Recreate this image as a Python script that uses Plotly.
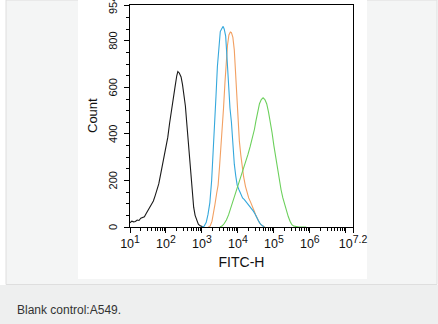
import math
import plotly.graph_objects as go

# FITC-H intensity in decades (log10) and cell counts for each sample
black_log = [1.00, 1.05, 1.10, 1.15, 1.20, 1.25, 1.30, 1.35, 1.40, 1.45, 1.50, 1.55, 1.60, 1.65,
             1.70, 1.75, 1.80, 1.85, 1.90, 1.95, 2.00, 2.05, 2.10, 2.15, 2.20, 2.25, 2.30, 2.33,
             2.37, 2.42, 2.46, 2.50, 2.54, 2.57, 2.61, 2.65, 2.69, 2.73, 2.77, 2.81, 2.85, 2.90,
             2.95, 3.00, 3.05]
black_cnt = [18, 25, 22, 24, 30, 28, 38, 42, 44, 58, 70, 82, 95, 112,
             135, 160, 185, 225, 262, 300, 345, 385, 445, 505, 550, 600, 650, 668,
             662, 645, 612, 575, 520, 462, 380, 290, 210, 140, 85, 50, 28, 12,
             5, 1, 0]

blue_log = [3.00, 3.06, 3.12, 3.17, 3.22, 3.27, 3.31, 3.35, 3.39, 3.43, 3.47, 3.51, 3.55, 3.59,
            3.62, 3.66, 3.70, 3.74, 3.78, 3.82, 3.86, 3.90, 3.94, 3.98, 4.03, 4.08, 4.13, 4.18,
            4.23, 4.28, 4.33, 4.38, 4.43, 4.48, 4.53, 4.58, 4.63, 4.68, 4.73]
blue_cnt = [0, 3, 20, 55, 105, 200, 320, 420, 560, 690, 790, 840, 852, 862,
            850, 820, 720, 610, 510, 450, 340, 270, 220, 180, 160, 140, 125, 118,
            108, 100, 92, 80, 68, 55, 38, 24, 12, 4, 0]

orange_log = [3.18, 3.23, 3.28, 3.32, 3.36, 3.41, 3.45, 3.49, 3.53, 3.56, 3.60, 3.64, 3.67, 3.71,
              3.75, 3.79, 3.82, 3.86, 3.90, 3.93, 3.97, 4.00, 4.04, 4.08, 4.12, 4.16, 4.21, 4.25,
              4.30, 4.35, 4.40, 4.45, 4.50, 4.55, 4.60, 4.65, 4.70, 4.75]
orange_cnt = [0, 5, 25, 55, 95, 145, 180, 260, 340, 410, 510, 620, 700, 780,
              825, 838, 835, 815, 760, 680, 560, 440, 370, 310, 260, 215, 175, 150,
              125, 108, 92, 70, 50, 32, 18, 8, 2, 0]

green_log = [3.50, 3.56, 3.62, 3.68, 3.74, 3.80, 3.86, 3.92, 3.98, 4.04, 4.10, 4.16, 4.22, 4.28,
             4.34, 4.40, 4.46, 4.50, 4.55, 4.60, 4.65, 4.70, 4.75, 4.80, 4.85, 4.90, 4.95, 5.00,
             5.05, 5.10, 5.15, 5.20, 5.25, 5.30, 5.35, 5.40, 5.45, 5.50, 5.55, 5.60, 5.70, 5.80,
             5.90]
green_cnt = [0, 4, 15, 30, 52, 80, 112, 142, 170, 198, 230, 255, 282, 312,
             345, 380, 420, 455, 500, 530, 548, 555, 548, 530, 495, 455, 405, 350,
             300, 250, 200, 160, 125, 95, 70, 45, 25, 10, 4, 2, 0, 0,
             0]

x_tick_vals = [1, 2, 3, 4, 5, 6, 7, 7.2]
x_tick_exp = ["1", "2", "3", "4", "5", "6", "", "7.2"]
y_tick_vals = [0, 200, 400, 600, 800, 954]
y_tick_text = ["0", "200", "400", "600", "800", "954"]

series = [
    (black_log, black_cnt, "#1a1a1a"),
    (orange_log, orange_cnt, "#f2a062"),
    (blue_log, blue_cnt, "#35a8dc"),
    (green_log, green_cnt, "#6cd05c"),
]

W, H = 438, 324
L, R, T, B = 130, 353, 5, 227  # plot area in pixels

def px(x):
    return (x - L) / (R - L)

def py(y):
    return (B - y) / (B - T)

fig = go.Figure()
for xs, ys, col in series:
    fig.add_trace(go.Scatter(x=xs, y=ys, mode="lines",
                             line=dict(color=col, width=1.1), hoverinfo="skip"))

minor_x = [d + math.log10(k) for d in range(1, 7) for k in range(2, 10)]

# power-of-ten labels with a large exponent
x_tick_text = ["10<sup><span style='font-size:10.5px'>%s</span></sup>" % e if e else ""
               for e in x_tick_exp]

font = "Liberation Sans, Arial, sans-serif"

shapes = [
    # page panel
    dict(type="rect", xref="paper", yref="paper", x0=px(6), x1=px(437), y0=py(0), y1=py(284.5),
         fillcolor="#f4f5f5", line=dict(color="#dedede", width=1), layer="below"),
    # white image area
    dict(type="rect", xref="paper", yref="paper", x0=px(78), x1=px(367), y0=py(-2), y1=py(279),
         fillcolor="white", line=dict(width=0), layer="below"),
    # caption strip
    dict(type="rect", xref="paper", yref="paper", x0=px(0), x1=px(438), y0=py(285), y1=py(326),
         fillcolor="#eeefef", line=dict(width=0), layer="below"),
]

annotations = [dict(text="Blank control:A549.", xref="paper", yref="paper",
                    x=px(15), y=py(310), xanchor="left", yanchor="middle",
                    showarrow=False, font=dict(size=12, color="#333333", family=font))]
# rotated count labels next to the y ticks
for v, t in zip(y_tick_vals, y_tick_text):
    annotations.append(dict(text=t, xref="paper", yref="y", x=px(113), y=v,
                            xanchor="center", yanchor="middle", textangle=-90,
                            showarrow=False, font=dict(size=11, color="#111111", family=font)))
annotations.append(dict(text="Count", xref="paper", yref="paper", x=px(92), y=0.5,
                        xanchor="center", yanchor="middle", textangle=-90,
                        showarrow=False, font=dict(size=13, color="#111111", family=font)))

fig.update_layout(
    width=W, height=H,
    margin=dict(l=L, r=W - R, t=T, b=H - B, pad=0),
    paper_bgcolor="white", plot_bgcolor="white",
    showlegend=False,
    font=dict(family=font, color="#111111"),
    shapes=shapes,
    annotations=annotations,
    xaxis=dict(range=[1, 7.2], tickmode="array", tickvals=x_tick_vals, ticktext=x_tick_text,
               tickangle=0, ticklabeloverflow="allow",
               ticks="outside", ticklen=5, tickwidth=1, tickcolor="black",
               showline=True, linecolor="black", linewidth=1, mirror=True,
               showgrid=False, zeroline=False, tickfont=dict(size=12.5),
               minor=dict(tickmode="array", tickvals=minor_x, ticks="outside",
                          ticklen=3, tickwidth=1, tickcolor="black"),
               title=dict(text="FITC-H", font=dict(size=14), standoff=7)),
    yaxis=dict(range=[0, 954], tickmode="array", tickvals=y_tick_vals, showticklabels=False,
               ticks="outside", ticklen=5, tickwidth=1, tickcolor="black",
               showline=True, linecolor="black", linewidth=1, mirror=True,
               showgrid=False, zeroline=False,
               minor=dict(dtick=50, tick0=0, ticks="outside", ticklen=3,
                          tickwidth=1, tickcolor="black")),
)

fig.write_html("out.html")
